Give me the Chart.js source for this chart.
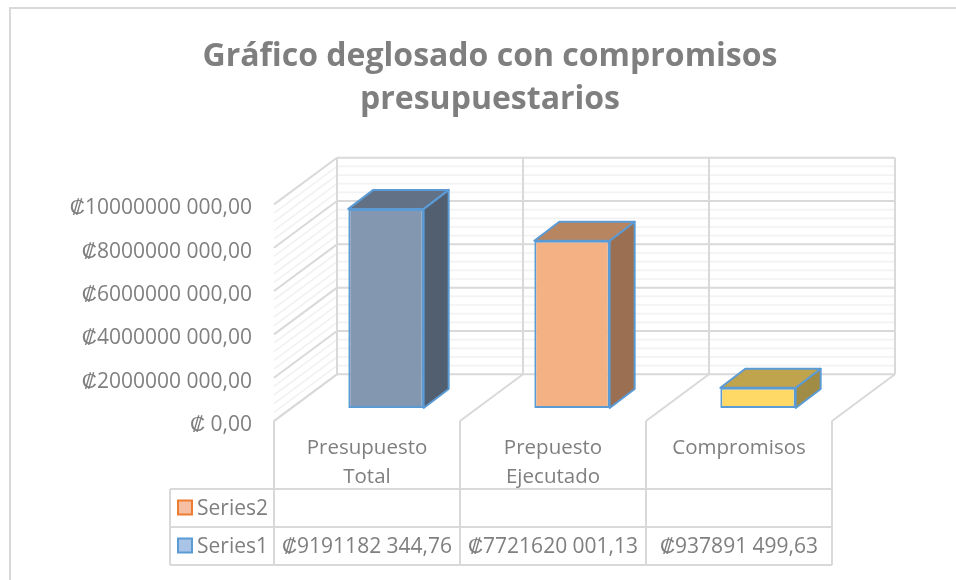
<!DOCTYPE html>
<html><head><meta charset="utf-8">
<style>html,body{margin:0;padding:0;background:#fff}#w{position:absolute;left:0;top:0;width:956px;height:580px}</style>
<script src="https://cdn.jsdelivr.net/npm/chart.js@4"></script></head>
<body><div id="w"><canvas id="c" width="956" height="580"></canvas></div>
<script>
const titleLines = ['Gráfico deglosado con compromisos', 'presupuestarios'];
const categories = [['Presupuesto', 'Total'], ['Prepuesto', 'Ejecutado'], ['Compromisos']];
const series1 = [9191182344.76, 7721620001.13, 937891499.63];
const series2 = [null, null, null];
const yTicks = [0, 2000000000, 4000000000, 6000000000, 8000000000, 10000000000];
const yMinorStep = 400000000;
const pointFill = ['#8497b0', '#f4b183', '#ffd966'];
const pointTop = ['#637186', '#b88561', '#bfa44d'];
const pointSide = ['#525f70', '#9b7052', '#a18c45'];
const edge = '#5b9bd5';
const gridMajor = '#d9d9d9', gridMinor = '#f2f2f2', ink = '#7f7f7f';
const FONT = '"Open Sans", sans-serif';
const wallDX = 63, wallDY = -46.7;          // oblique projection of the floor depth
const barDX = 19, barDY = -13;              // bar front face inside that depth
const sideDX = 25, sideDY = -19;            // depth of a bar
const rowY = [489, 527, 565], tableLeft = 170;

function money(v){
  if(!v) return '₡ 0,00';
  const [i,d] = v.toFixed(2).split('.');
  return '₡' + i.slice(0,-3) + ' ' + i.slice(-3) + ',' + d;
}
function line(ctx,x1,y1,x2,y2){ctx.beginPath();ctx.moveTo(x1,y1);ctx.lineTo(x2,y2);ctx.stroke();}
function poly(ctx,p,fill){ctx.beginPath();p.forEach((q,i)=>i?ctx.lineTo(q[0],q[1]):ctx.moveTo(q[0],q[1]));ctx.closePath();ctx.fillStyle=fill;ctx.fill();ctx.stroke();}

const frame = {id:'frame', beforeDraw(ch){
  const c=ch.ctx; c.save(); c.fillStyle='#fff'; c.fillRect(0,0,956,580);
  c.strokeStyle=gridMajor; c.lineWidth=2;
  c.beginPath(); c.moveTo(956,8); c.lineTo(10,8); c.lineTo(10,580); c.stroke(); c.restore();
}};
const walls = {id:'walls', beforeDatasetsDraw(ch){
  const c=ch.ctx, y=ch.scales.y, a=ch.chartArea;
  c.save();
  const gl=a.left, gr=a.right, base=y.getPixelForValue(0), top=y.getPixelForValue(10000000000);
  c.lineWidth=1.7; c.strokeStyle=gridMinor;
  for(let v=0;v<=10000000000;v+=yMinorStep){
    if(yTicks.includes(v)) continue;
    const p=y.getPixelForValue(v);
    line(c,gl,p,gl+wallDX,p+wallDY); line(c,gl+wallDX,p+wallDY,gr+wallDX,p+wallDY);
  }
  c.strokeStyle=gridMajor; c.lineWidth=2;
  yTicks.forEach(v=>{const p=y.getPixelForValue(v);
    line(c,gl,p,gl+wallDX,p+wallDY); line(c,gl+wallDX,p+wallDY,gr+wallDX,p+wallDY);});
  const n=categories.length, w=(gr-gl)/n;
  for(let i=0;i<=n;i++){
    const X=gl+i*w;
    line(c,X+wallDX,top+wallDY,X+wallDX,base+wallDY);
    line(c,X,base,X+wallDX,base+wallDY);
    line(c,X,base,X,rowY[2]);
  }
  line(c,tableLeft,rowY[0],gr,rowY[0]);line(c,tableLeft,rowY[1],gr,rowY[1]);line(c,tableLeft,rowY[2],gr,rowY[2]);
  line(c,tableLeft,rowY[0],tableLeft,rowY[2]);
  c.restore();
  // bars are drawn by Chart.js, moved into the depth of the floor
  c.save(); c.translate(barDX,barDY);
  c.strokeStyle=edge; c.lineWidth=2; c.lineJoin='round';
  ch.getDatasetMeta(0).data.forEach((b,i)=>{
    const L=b.x-b.width/2,R=b.x+b.width/2,T=b.y,B=b.base;
    poly(c,[[R,T],[R+sideDX,T+sideDY],[R+sideDX,B+sideDY],[R,B]],pointSide[i]);
    poly(c,[[L,T],[L+sideDX,T+sideDY],[R+sideDX,T+sideDY],[R,T]],pointTop[i]);
  });
},
afterDatasetsDraw(ch){
  const c=ch.ctx; c.restore();
  c.save();
  c.font='21px '+FONT; c.fillStyle=ink; c.textBaseline='middle';
  const x=ch.scales.x;
  c.textAlign='center';
  series1.forEach((v,i)=>c.fillText(money(v),x.getPixelForTick(i),rowY[1]+20));
  [[ch.data.datasets[1],rowY[0]],[ch.data.datasets[0],rowY[1]]].forEach(([d,r],k)=>{
    c.textAlign='left'; c.fillStyle=ink;
    c.fillText(d.label,197,r+20);
    c.fillStyle=k?'#a9c4e6':'#f6bfa4'; c.strokeStyle=k?edge:'#ed7d31'; c.lineWidth=2;
    c.fillRect(178,r+11.5,14,14); c.strokeRect(178,r+11.5,14,14);
  });
  c.restore();
}};
new Chart(document.getElementById('c'),{
  type:'bar',
  data:{labels:categories,datasets:[
    {label:'Series1',data:series1,backgroundColor:pointFill,borderColor:edge,borderWidth:2,borderSkipped:false,clip:false},
    {label:'Series2',data:series2,backgroundColor:'#f4b183',borderColor:'#ed7d31',borderWidth:2,borderSkipped:false,clip:false}
  ]},
  plugins:[frame,walls],
  options:{
    responsive:false,animation:false,
    layout:{padding:{left:24,right:0,top:0,bottom:0}},
    datasets:{bar:{grouped:false,barPercentage:0.405,categoryPercentage:1}},
    plugins:{legend:{display:false},tooltip:{enabled:false},
      title:{display:true,text:titleLines,color:ink,
        font:{family:FONT,size:32,weight:'bold',lineHeight:1.35},padding:{top:35,bottom:83}}},
    scales:{
      x:{grid:{display:false},border:{display:false},
        ticks:{color:ink,font:{family:FONT,size:20.5,lineHeight:1.41},padding:5,maxRotation:0,autoSkip:false},
        afterFit(s){s.height=159;}},
      y:{min:0,max:10000000000,position:'left',grid:{display:false},border:{display:false},
        afterBuildTicks(s){s.ticks=yTicks.map(value=>({value}));},
        ticks:{color:ink,font:{family:FONT,size:21},padding:14,labelOffset:4,callback:money},
        afterFit(s){s.width=250;}},
      pad:{position:'right',min:0,max:1,grid:{display:false},border:{display:false},
        ticks:{display:false},afterFit(s){s.width=124;}}
    }
  }
});
</script></body></html>
